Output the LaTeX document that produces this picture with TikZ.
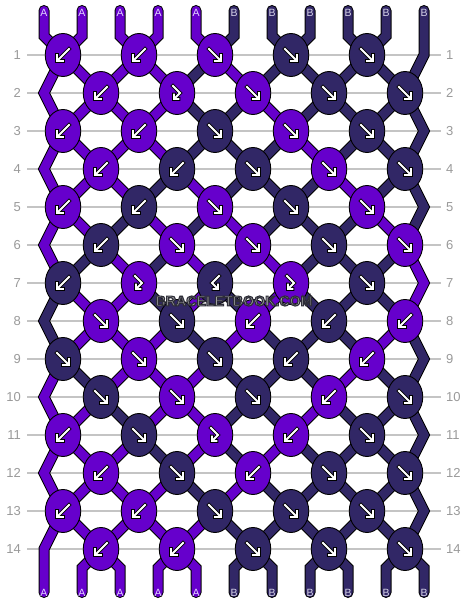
\documentclass[tikz,border=0pt]{standalone}
\usepackage{fontspec}
\setmainfont{Liberation Sans}
\usetikzlibrary{shapes.geometric}
\definecolor{col0}{HTML}{6600CC}
\definecolor{col1}{HTML}{312766}
\definecolor{gridgray}{HTML}{C4C4C4}
\definecolor{labgray}{HTML}{9A9A9A}
\definecolor{let0}{HTML}{E2D4FF}
\definecolor{let1}{HTML}{D6D3E8}
\definecolor{wmfill}{HTML}{B4B4B4}
\pgfdeclarelayer{grid}
\pgfdeclarelayer{tout}
\pgfdeclarelayer{tin}
\pgfsetlayers{grid,tout,tin,main}

\newcommand\getpt[3]{%
  \ifnum#2=0 \edef#1{T#3}\else
  \ifodd#2\relax
    \ifnum#3=11 \edef#1{E#2}\else
      \pgfmathtruncatemacro\tmpk{(#3+1)/2}\edef#1{Q#2-\tmpk}\fi
  \else
    \ifnum#3=1 \edef#1{E#2}\else
      \pgfmathtruncatemacro\tmpk{#3/2}\edef#1{Q#2-\tmpk}\fi
  \fi\fi}

\newcommand\thr[2]{%
  \begin{pgfonlayer}{tout}\draw[throut] #2;\end{pgfonlayer}%
  \begin{pgfonlayer}{tin}\draw[thrin,draw=col#1] #2;\end{pgfonlayer}}

\newcommand\karrf{\draw[arrout] (-6,-6) -- (5,5) (6,0) -- (6,6) -- (0,6);
  \draw[arrin] (-6,-6) -- (5,5) (6,0) -- (6,6) -- (0,6);}
\newcommand\karrb{\draw[arrout] (6,-6) -- (-5,5) (-6,0) -- (-6,6) -- (0,6);
  \draw[arrin] (6,-6) -- (-5,5) (-6,0) -- (-6,6) -- (0,6);}
\newcommand\karrfb{\draw[arrout] (-4,-7) -- (3,0) -- (-2.5,5.5) (-3,1.5) -- (-3,6) -- (1.5,6);
  \draw[arrin] (-4,-7) -- (3,0) -- (-2.5,5.5) (-3,1.5) -- (-3,6) -- (1.5,6);}
\newcommand\karrbf{\draw[arrout] (4,-7) -- (-3,0) -- (2.5,5.5) (3,1.5) -- (3,6) -- (-1.5,6);
  \draw[arrin] (4,-7) -- (-3,0) -- (2.5,5.5) (3,1.5) -- (3,6) -- (-1.5,6);}

\newcommand\outlinedtext[1]{%
  \special{pdf:literal direct 2 Tr 1.15 w 0.18 0.18 0.22 RG}#1\special{pdf:literal direct 0 Tr}}

\begin{document}
\begin{tikzpicture}[x=1pt,y=-1pt,
  knot/.style={ellipse,draw=black,line width=0.9pt,minimum width=35.5pt,minimum height=43pt,inner sep=0pt},
  throut/.style={line width=11pt,draw=black,line cap=round,line join=miter},
  thrin/.style={line width=9pt,line cap=round,line join=miter},
  arrout/.style={draw=black,line width=3.6pt,line cap=rect,line join=miter},
  arrin/.style={draw=white,line width=1.8pt,line cap=rect,line join=miter},
  gridline/.style={draw=gridgray,line width=1.3pt},
  lab/.style={text=labgray,font=\fontsize{13}{13}\selectfont,inner sep=0pt},
  endlab/.style={font=\fontsize{10.5}{10.5}\selectfont,inner sep=0pt},
  wm/.style={font=\bfseries\fontsize{14.2}{14.2}\selectfont,inner sep=0pt}]
\useasboundingbox (0,0) rectangle (468,604);
\begin{pgfonlayer}{grid}
  \fill[white] (0,0) rectangle (468,604);
\end{pgfonlayer}

% string ends
\foreach \p/\L/\c in {1/A/0,2/A/0,3/A/0,4/A/0,5/A/0,6/B/1,7/B/1,8/B/1,9/B/1,10/B/1,11/B/1} {
  \pgfmathsetmacro\xx{44+38*(\p-1)}
  \coordinate (Te\p) at (\xx,10.5);
  \coordinate (T\p) at (\xx,36);
  \coordinate (Bb\p) at (\xx,568);
  \coordinate (Be\p) at (\xx,592.5);
  \node[endlab,text=let\c] (TL\p) at (\xx,13) {\L};
  \node[endlab,text=let\c] (BL\p) at (\xx,593) {\L};
}

% knots, edge points, labels, grid
\foreach \r/\lst in {
  1/{b/0,b/0,f/0,f/1,f/1},
  2/{b/0,fb/0,f/0,f/1,f/1},
  3/{b/0,b/0,f/1,f/0,f/1},
  4/{b/0,b/1,f/1,f/0,f/1},
  5/{b/0,b/1,f/0,f/1,f/0},
  6/{b/1,f/0,f/0,f/1,f/0},
  7/{b/1,fb/0,bf/1,fb/0,f/1},
  8/{f/0,f/1,b/0,b/1,b/0},
  9/{f/1,f/0,f/1,b/1,b/0},
  10/{f/1,f/0,f/1,b/0,f/1},
  11/{b/0,f/1,fb/0,b/0,f/1},
  12/{b/0,f/1,b/0,f/1,f/1},
  13/{b/0,b/0,f/1,f/1,f/1},
  14/{b/0,b/0,f/1,f/1,f/1}} {
  \pgfmathsetmacro\yy{17+38*\r}
  \foreach \t/\c [count=\k] in \lst {
    \ifodd\r\relax
      \pgfmathsetmacro\xx{63+76*(\k-1)}
    \else
      \pgfmathsetmacro\xx{101+76*(\k-1)}
    \fi
    \node[knot,fill=col\c] (K\r-\k) at (\xx,\yy) {};
    \coordinate (Q\r-\k) at (\xx,\yy);
    \begin{scope}[shift={(Q\r-\k)}]\csname karr\t\endcsname\end{scope}
  }
  \ifodd\r\relax
    \coordinate (E\r) at (424,\yy);
  \else
    \coordinate (E\r) at (44,\yy);
  \fi
  \node[lab,anchor=east] (LL\r) at (21,\yy) {\r};
  \node[lab,anchor=west] (LR\r) at (446,\yy) {\r};
  \coordinate (GA\r) at (27,\yy);
  \coordinate (GB\r) at (441,\yy);
  \begin{pgfonlayer}{grid}\draw[gridline] (GA\r) -- (GB\r);\end{pgfonlayer}
}

% threads
\foreach \r/\lst in {
  0/{0,0,0,0,0,1,1,1,1,1,1},
  1/{0,0,0,0,1,0,1,1,1,1,1},
  2/{0,0,0,0,1,1,0,1,1,1,1},
  3/{0,0,0,0,1,1,1,0,1,1,1},
  4/{0,0,0,1,0,1,1,1,0,1,1},
  5/{0,0,1,0,1,0,1,1,1,0,1},
  6/{0,1,0,1,0,1,0,1,1,1,0},
  7/{1,0,0,1,0,1,0,1,1,1,0},
  8/{1,0,0,0,1,0,1,1,1,0,1},
  9/{0,1,0,0,0,1,1,1,0,1,1},
  10/{0,0,1,0,0,1,1,0,1,1,1},
  11/{0,0,0,1,0,1,0,1,1,1,1},
  12/{0,0,0,0,1,0,1,1,1,1,1},
  13/{0,0,0,0,0,1,1,1,1,1,1},
  14/{0,0,0,0,0,1,1,1,1,1,1}} {
  \foreach \c [count=\p] in \lst {
    \ifnum\r=0\relax
      \ifnum\p=11\relax
        \thr{\c}{(Te11) -- (T11) -- (E1) -- (Q2-5)}%
      \else
        \getpt\pb{1}{\p}%
        \thr{\c}{(Te\p) -- (T\p) -- (\pb)}%
      \fi
    \else\ifnum\r=14\relax
      \ifnum\p=1\relax
        \thr{\c}{(Q13-1) -- (E14) -- (Bb1) -- (Be1)}%
      \else
        \getpt\pa{14}{\p}%
        \thr{\c}{(\pa) -- (Bb\p) -- (Be\p)}%
      \fi
    \else
      \ifnum\p>1\relax\ifnum\p<11\relax
        \pgfmathtruncatemacro\rn{\r+1}%
        \getpt\pa{\r}{\p}\getpt\pb{\rn}{\p}%
        \thr{\c}{(\pa) -- (\pb)}%
      \fi\fi
      \ifnum\r>1\relax
        \pgfmathtruncatemacro\rn{\r+1}\pgfmathtruncatemacro\rp{\r-1}%
        \ifodd\r\relax
          \ifnum\p=11\relax \getpt\pa{\rp}{11}\getpt\pb{\rn}{11}\thr{\c}{(\pa) -- (E\r) -- (\pb)}\fi
        \else
          \ifnum\p=1\relax \getpt\pa{\rp}{1}\getpt\pb{\rn}{1}\thr{\c}{(\pa) -- (E\r) -- (\pb)}\fi
        \fi
      \fi
    \fi\fi
  }
}

% watermark
\node[wm,text=wmfill] (wm) at (234,301) {\outlinedtext{BRACELETBOOK.COM}};
\end{tikzpicture}
\end{document}
